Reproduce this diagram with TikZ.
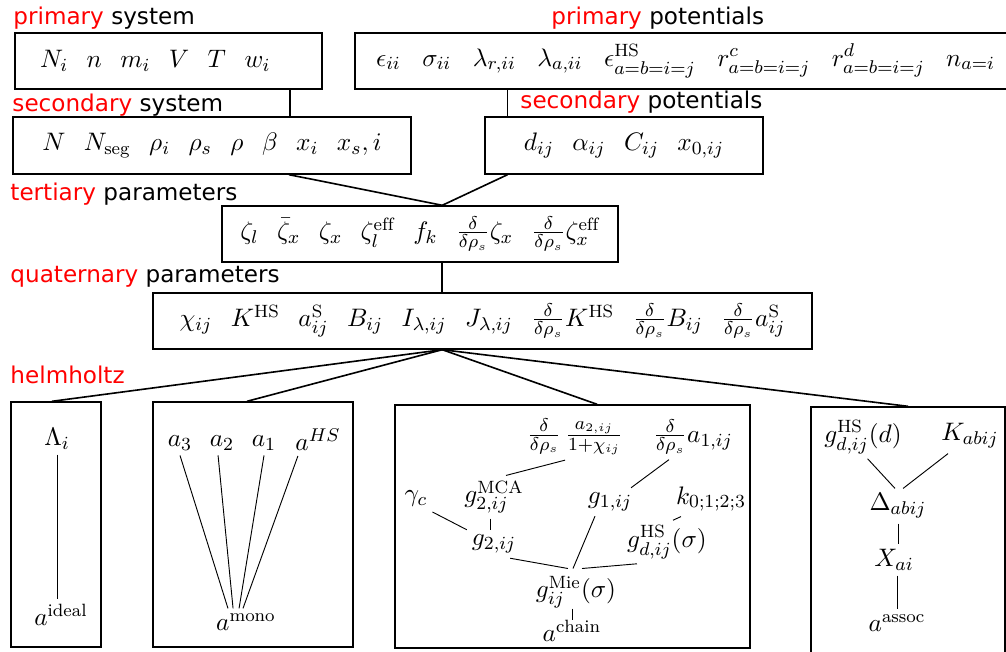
\documentclass[tikz,border=0pt]{standalone}
\usepackage{amsmath,amssymb}
\usepackage{fontspec}
\newfontfamily\lblfont{DejaVu Sans}
\usetikzlibrary{calc,positioning}
\newcommand{\ddr}{\frac{\delta}{\delta\rho_s}}
\newcommand{\itemgap}{\hspace{8pt}}
\newcommand{\widegap}{\hspace{9.3pt}}
\newcommand{\pxl}{0.4327pt}

\begin{document}
\begin{tikzpicture}[x=0.4327pt, y=-0.4327pt, font=\fontsize{11}{13}\selectfont,
  box/.style={draw, semithick, inner sep=0pt, align=center},
  var/.style={inner sep=2pt},
  lbl/.style={anchor=base west, inner sep=0pt, font=\lblfont\fontsize{10}{12}\selectfont},
  link/.style={line width=0.7pt},
  wire/.style={thin},
]
\useasboundingbox (0,0) rectangle (1006,651);

% inputs
\node[lbl] (psyslbl) at (13,25) {\textcolor{red}{primary} system};
\node[box, minimum height=56*\pxl, text width=257*\pxl, inner xsep=25*\pxl, align=left] (psys) at (168.5,61)
  {$N_i\itemgap n\itemgap m_i\itemgap V\itemgap T\itemgap w_i$};

\node[lbl] (ppotlbl) at (551,25) {\textcolor{red}{primary} potentials};
\node[box, minimum height=56*\pxl, text width=623*\pxl, inner xsep=21*\pxl, align=left] (ppot) at (687.5,61)
  {$\epsilon_{ii}\widegap \sigma_{ii}\widegap \lambda_{r,ii}\widegap \lambda_{a,ii}\widegap
    \epsilon^{\mathrm{HS}}_{a=b=i=j}\widegap r^{c}_{a=b=i=j}\widegap r^{d}_{a=b=i=j}\widegap n_{a=i}$};

\node[lbl] (ssyslbl) at (12,112) {\textcolor{red}{secondary} system};
\node[box, minimum height=57*\pxl, minimum width=398*\pxl] (ssys) at (212,145.5)
  {$N\itemgap N_{\mathrm{seg}}\itemgap \rho_i\itemgap \rho_s\itemgap \rho\itemgap \beta\itemgap x_i\itemgap x_s,i$};

\node[lbl] (spotlbl) at (520,108) {\textcolor{red}{secondary} potentials};
\node[box, minimum height=57*\pxl, minimum width=278*\pxl] (spot) at (624,145.5)
  {$d_{ij}\itemgap \alpha_{ij}\itemgap C_{ij}\itemgap x_{0,ij}$};

% derived parameters
\node[lbl] (tertlbl) at (10,200) {\textcolor{red}{tertiary} parameters};
\node[box, minimum height=56*\pxl, minimum width=396*\pxl] (tert) at (420,234)
  {$\zeta_l\itemgap \bar{\zeta}_x\itemgap \zeta_x\itemgap \zeta_l^{\mathrm{eff}}\itemgap f_k\itemgap
    \ddr\zeta_x\itemgap \ddr\zeta_x^{\mathrm{eff}}$};

\node[lbl] (quatlbl) at (10,282) {\textcolor{red}{quaternary} parameters};
\node[box, minimum height=56*\pxl, minimum width=659*\pxl] (quat) at (482.5,321)
  {$\chi_{ij}\itemgap K^{\mathrm{HS}}\itemgap a^{\mathrm{S}}_{ij}\itemgap B_{ij}\itemgap I_{\lambda,ij}\itemgap
    J_{\lambda,ij}\itemgap \ddr K^{\mathrm{HS}}\itemgap \ddr B_{ij}\itemgap \ddr a^{\mathrm{S}}_{ij}$};

\coordinate (psysout) at ($(psys.south west)!0.893!(psys.south east)$);
\coordinate (ppotout) at ($(ppot.south west)!0.23!(ppot.south east)$);
\coordinate (ssysout) at ($(ssys.south west)!0.693!(ssys.south east)$);
\coordinate (spotout) at ($(spot.south west)!0.083!(spot.south east)$);
\coordinate (tertin) at ($(tert.north west)!0.556!(tert.north east)$);

\draw[link] (psysout) -- (psysout |- ssys.north);
\draw[link] (ppotout) -- (ppotout |- spot.north);
\draw[link] (ssysout) -- (tertin);
\draw[link] (spotout) -- (tertin);
\draw[link] (tertin |- tert.south) -- (tertin |- quat.north);

% helmholtz contributions
\node[lbl] (helmlbl) at (10,383) {\textcolor{red}{helmholtz}};
\node[box, minimum width=90*\pxl, minimum height=245*\pxl] (idealbox) at (56,524.5) {};
\node[box, minimum width=200*\pxl, minimum height=245*\pxl] (monobox) at (253,524.5) {};
\node[box, minimum width=355*\pxl, minimum height=243*\pxl] (chainbox) at (572.5,526.5) {};
\node[box, minimum width=194*\pxl, minimum height=253*\pxl] (assocbox) at (908,533.5) {};

\coordinate (quatout) at (tertin |- quat.south);
\draw[link] (quatout) -- ($(idealbox.north west)!0.456!(idealbox.north east)$);
\draw[link] (quatout) -- ($(monobox.north west)!0.47!(monobox.north east)$);
\draw[link] (quatout) -- ($(chainbox.north west)!0.569!(chainbox.north east)$);
\draw[link] (quatout) -- (assocbox.north);

% ideal
\node[var] (lambda) at (57,439) {$\Lambda_i$};
\node[var] (aideal) at (61,615) {$a^{\mathrm{ideal}}$};
\draw[wire] (lambda.south) -- (lambda.south |- aideal.north);

% mono
\node[var] (athree) at (180,443) {$a_3$};
\node[var] (atwo) at (222,443) {$a_2$};
\node[var] (aone) at (264,443) {$a_1$};
\node[var] (ahs) at (318,440) {$a^{HS}$};
\node[var] (amono) at (246,622) {$a^{\mathrm{mono}}$};
\draw[wire] (athree.south) -- ([xshift=-7.8pt]amono.north);
\draw[wire] ([xshift=-1.7pt]atwo.south) -- ([xshift=-5.6pt]amono.north);
\draw[wire] (aone.south) -- ([xshift=-3pt]amono.north);
\draw[wire] ([xshift=-8.7pt]ahs.south) -- ([xshift=-1.3pt]amono.north);

% chain
\node[var] (dgtwo) at (575,437) {$\ddr\,\frac{a_{2,ij}}{1+\chi_{ij}}$};
\node[var] (dgone) at (693,437) {$\ddr a_{1,ij}$};
\node[var] (gammac) at (416,499) {$\gamma_c$};
\node[var] (gmca) at (494,497) {$g_{2,ij}^{\mathrm{MCA}}$};
\node[var] (gone) at (610,502) {$g_{1,ij}$};
\node[var] (kcoef) at (711,499) {$k_{0;1;2;3}$};
\node[var] (gtwo) at (494,544) {$g_{2,ij}$};
\node[var] (ghs) at (667,542) {$g^{\mathrm{HS}}_{d,ij}(\sigma)$};
\node[var, inner ysep=0pt] (gmie) at (576,592) {$g^{\mathrm{Mie}}_{ij}(\sigma)$};
\node[var, inner ysep=0pt] (achain) at (572,631) {$a^{\mathrm{chain}}$};
\draw[wire] ([xshift=-4.3pt]dgtwo.south) -- ([xshift=5.2pt]gmca.north);
\draw[wire] ([xshift=-10.4pt]dgone.south) -- ([xshift=9.1pt]gone.north);
\draw[wire] ([xshift=-1.7pt]gmca.south) -- ([xshift=-1.7pt]gtwo.north);
\draw[wire] (gammac.south east) -- (gtwo.north west);
\draw[wire] ([xshift=7pt]gtwo.south) -- ([xshift=-3.5pt, yshift=3pt]gmie.north);
\draw[wire] ([xshift=-6.5pt]gone.south) -- ([xshift=-1.3pt, yshift=3pt]gmie.north);
\draw[wire] ([xshift=-13pt]ghs.south) -- ([xshift=2.6pt, yshift=3pt]gmie.north);
\draw[wire] ([xshift=-13pt]kcoef.south) -- ([xshift=2.6pt]ghs.north);
\draw[wire] (achain.north |- gmie.south) -- (achain.north);

% assoc
\node[var] (ghsd) at (863,437) {$g^{\mathrm{HS}}_{d,ij}(d)$};
\node[var] (kab) at (970,436) {$K_{abij}$};
\node[var] (delta) at (898,506) {$\Delta_{abij}$};
\node[var] (xai) at (894,560) {$X_{ai}$};
\node[var] (aassoc) at (897,623) {$a^{\mathrm{assoc}}$};
\draw[wire] ([xshift=2pt]ghsd.south) -- ([xshift=-1.3pt]delta.north);
\draw[wire] ([xshift=-9.5pt]kab.south) -- ([xshift=2.2pt]delta.north);
\draw[wire] (delta.south) -- (delta.south |- xai.north);
\draw[wire] (xai.south -| aassoc.north) -- (aassoc.north);
\end{tikzpicture}
\end{document}
